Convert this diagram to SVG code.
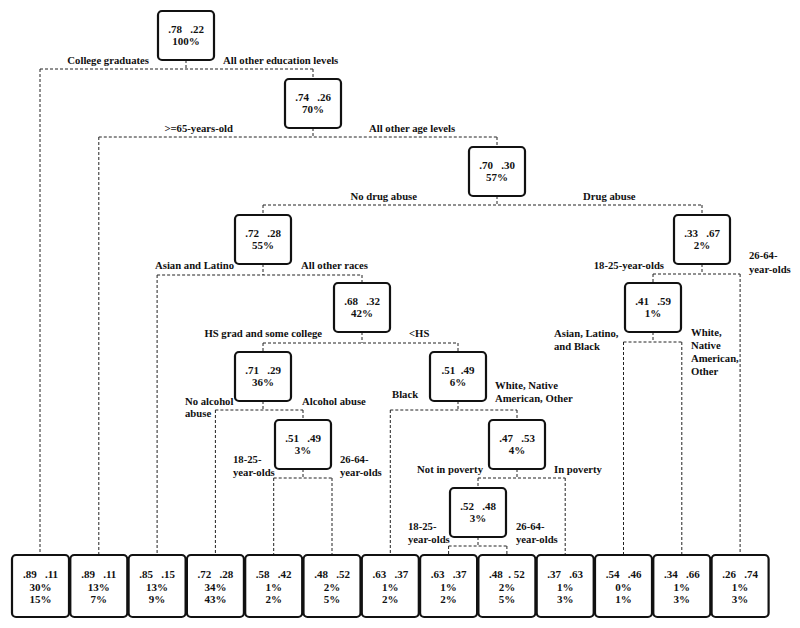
<svg xmlns="http://www.w3.org/2000/svg" width="800" height="628" viewBox="0 0 800 628">
<style>
.box{fill:#fff;stroke:#111;stroke-width:2.2}
.v{font-family:"Liberation Serif","Times New Roman",serif;font-weight:bold;font-size:11px;fill:#111;text-anchor:middle;white-space:pre}
.l{font-family:"Liberation Serif","Times New Roman",serif;font-weight:bold;font-size:10.7px;fill:#111}
.e{text-anchor:end}
#connectors path{fill:none;stroke:#222;stroke-width:1;stroke-dasharray:3 2}
</style>
<rect width="800" height="628" fill="#fff"/>
<g id="connectors">
<path d="M186 60V69M40 69H313M40 69V555M313 69V79"/>
<path d="M313 128V137M98.8 137H497M98.8 137V555M497 137V147"/>
<path d="M497 196V205M263 205H702M263 205V215M702 205V215"/>
<path d="M263 264V275M157.1 275H362M157.1 275V555M362 275V283"/>
<path d="M702 264V274M653 274H740.1M740.1 274V555M653 274V283"/>
<path d="M362 332V343M263 343H458M263 343V352M458 343V352"/>
<path d="M653 332V342M623.5 342H681.8M623.5 342V555M681.8 342V555"/>
<path d="M263 401V410M215.4 410H303M215.4 410V555M303 410V420"/>
<path d="M458 401V410M390.3 410H517M390.3 410V555M517 410V420"/>
<path d="M303 469V478M273.7 478H332M273.7 478V555M332 478V555"/>
<path d="M517 469V478M478 478H565.2M565.2 478V555M478 478V488"/>
<path d="M478 537V546M448.6 546H506.9M448.6 546V555M506.9 546V555"/>
</g>
<g id="n1"><rect class="box" x="158" y="11" width="56" height="49" rx="4"/><text class="v" x="186" y="33">.78   .22</text><text class="v" x="186" y="45">100%</text></g>
<g id="n2"><rect class="box" x="285" y="79" width="56" height="49" rx="4"/><text class="v" x="313" y="101">.74   .26</text><text class="v" x="313" y="113">70%</text></g>
<g id="n3"><rect class="box" x="469" y="147" width="56" height="49" rx="4"/><text class="v" x="497" y="169">.70   .30</text><text class="v" x="497" y="181">57%</text></g>
<g id="n4"><rect class="box" x="235" y="215" width="56" height="49" rx="4"/><text class="v" x="263" y="237">.72   .28</text><text class="v" x="263" y="249">55%</text></g>
<g id="n5"><rect class="box" x="674" y="215" width="56" height="49" rx="4"/><text class="v" x="702" y="237">.33   .67</text><text class="v" x="702" y="249">2%</text></g>
<g id="n6"><rect class="box" x="334" y="283" width="56" height="49" rx="4"/><text class="v" x="362" y="305">.68   .32</text><text class="v" x="362" y="317">42%</text></g>
<g id="n7"><rect class="box" x="625" y="283" width="56" height="49" rx="4"/><text class="v" x="653" y="305">.41   .59</text><text class="v" x="653" y="317">1%</text></g>
<g id="n8"><rect class="box" x="235" y="352" width="56" height="49" rx="4"/><text class="v" x="263" y="374">.71   .29</text><text class="v" x="263" y="386">36%</text></g>
<g id="n9"><rect class="box" x="430" y="352" width="56" height="49" rx="4"/><text class="v" x="458" y="374">.51  .49</text><text class="v" x="458" y="386">6%</text></g>
<g id="n10"><rect class="box" x="275" y="420" width="56" height="49" rx="4"/><text class="v" x="303" y="442">.51   .49</text><text class="v" x="303" y="454">3%</text></g>
<g id="n11"><rect class="box" x="489" y="420" width="56" height="49" rx="4"/><text class="v" x="517" y="442">.47   .53</text><text class="v" x="517" y="454">4%</text></g>
<g id="n12"><rect class="box" x="450" y="488" width="56" height="49" rx="4"/><text class="v" x="478" y="510">.52   .48</text><text class="v" x="478" y="522">3%</text></g>
<g id="leaf1"><rect class="box" x="12" y="555" width="57" height="62" rx="4"/><text class="v" x="40.5" y="578">.89   .11</text><text class="v" x="40.5" y="591">30%</text><text class="v" x="40.5" y="603">15%</text></g>
<g id="leaf2"><rect class="box" x="70.3" y="555" width="57" height="62" rx="4"/><text class="v" x="98.8" y="578">.89   .11</text><text class="v" x="98.8" y="591">13%</text><text class="v" x="98.8" y="603">7%</text></g>
<g id="leaf3"><rect class="box" x="128.6" y="555" width="57" height="62" rx="4"/><text class="v" x="157.1" y="578">.85   .15</text><text class="v" x="157.1" y="591">13%</text><text class="v" x="157.1" y="603">9%</text></g>
<g id="leaf4"><rect class="box" x="186.9" y="555" width="57" height="62" rx="4"/><text class="v" x="215.4" y="578">.72   .28</text><text class="v" x="215.4" y="591">34%</text><text class="v" x="215.4" y="603">43%</text></g>
<g id="leaf5"><rect class="box" x="245.2" y="555" width="57" height="62" rx="4"/><text class="v" x="273.7" y="578">.58   .42</text><text class="v" x="273.7" y="591">1%</text><text class="v" x="273.7" y="603">2%</text></g>
<g id="leaf6"><rect class="box" x="303.5" y="555" width="57" height="62" rx="4"/><text class="v" x="332" y="578">.48   .52</text><text class="v" x="332" y="591">2%</text><text class="v" x="332" y="603">5%</text></g>
<g id="leaf7"><rect class="box" x="361.8" y="555" width="57" height="62" rx="4"/><text class="v" x="390.3" y="578">.63   .37</text><text class="v" x="390.3" y="591">1%</text><text class="v" x="390.3" y="603">2%</text></g>
<g id="leaf8"><rect class="box" x="420.1" y="555" width="57" height="62" rx="4"/><text class="v" x="448.6" y="578">.63   .37</text><text class="v" x="448.6" y="591">1%</text><text class="v" x="448.6" y="603">2%</text></g>
<g id="leaf9"><rect class="box" x="478.4" y="555" width="57" height="62" rx="4"/><text class="v" x="506.9" y="578">.48  . 52</text><text class="v" x="506.9" y="591">2%</text><text class="v" x="506.9" y="603">5%</text></g>
<g id="leaf10"><rect class="box" x="536.7" y="555" width="57" height="62" rx="4"/><text class="v" x="565.2" y="578">.37   .63</text><text class="v" x="565.2" y="591">1%</text><text class="v" x="565.2" y="603">3%</text></g>
<g id="leaf11"><rect class="box" x="595" y="555" width="57" height="62" rx="4"/><text class="v" x="623.5" y="578">.54   .46</text><text class="v" x="623.5" y="591">0%</text><text class="v" x="623.5" y="603">1%</text></g>
<g id="leaf12"><rect class="box" x="653.3" y="555" width="57" height="62" rx="4"/><text class="v" x="681.8" y="578">.34   .66</text><text class="v" x="681.8" y="591">1%</text><text class="v" x="681.8" y="603">3%</text></g>
<g id="leaf13"><rect class="box" x="711.6" y="555" width="57" height="62" rx="4"/><text class="v" x="740.1" y="578">.26   .74</text><text class="v" x="740.1" y="591">1%</text><text class="v" x="740.1" y="603">3%</text></g>
<g id="labels">
<text class="l e" x="149" y="64">College graduates</text>
<text class="l" x="223" y="64">All other education levels</text>
<text class="l e" x="233" y="132">&gt;=65-years-old</text>
<text class="l" x="369" y="132">All other age levels</text>
<text class="l e" x="417" y="200">No drug abuse</text>
<text class="l" x="583" y="200">Drug abuse</text>
<text class="l e" x="234" y="269">Asian and Latino</text>
<text class="l" x="301" y="269">All other races</text>
<text class="l e" x="664" y="269">18-25-year-olds</text>
<text class="l" x="749" y="259">26-64-</text>
<text class="l" x="749" y="273">year-olds</text>
<text class="l e" x="322" y="337">HS grad and some college</text>
<text class="l" x="409" y="337">&lt;HS</text>
<text class="l" x="554" y="337">Asian, Latino,</text>
<text class="l" x="554" y="350">and Black</text>
<text class="l" x="691" y="336">White,</text>
<text class="l" x="691" y="349">Native</text>
<text class="l" x="691" y="362">American,</text>
<text class="l" x="691" y="375">Other</text>
<text class="l" x="495" y="389">White, Native</text>
<text class="l" x="495" y="402">American, Other</text>
<text class="l" x="392" y="398">Black</text>
<text class="l" x="185" y="405">No alcohol</text>
<text class="l" x="185" y="417">abuse</text>
<text class="l" x="302" y="405">Alcohol abuse</text>
<text class="l" x="233" y="463">18-25-</text>
<text class="l" x="233" y="476">year-olds</text>
<text class="l" x="340" y="463">26-64-</text>
<text class="l" x="340" y="476">year-olds</text>
<text class="l e" x="483" y="473">Not in poverty</text>
<text class="l" x="554" y="473">In poverty</text>
<text class="l" x="408" y="530">18-25-</text>
<text class="l" x="408" y="543">year-olds</text>
<text class="l" x="516" y="530">26-64-</text>
<text class="l" x="516" y="543">year-olds</text>
</g>
</svg>
